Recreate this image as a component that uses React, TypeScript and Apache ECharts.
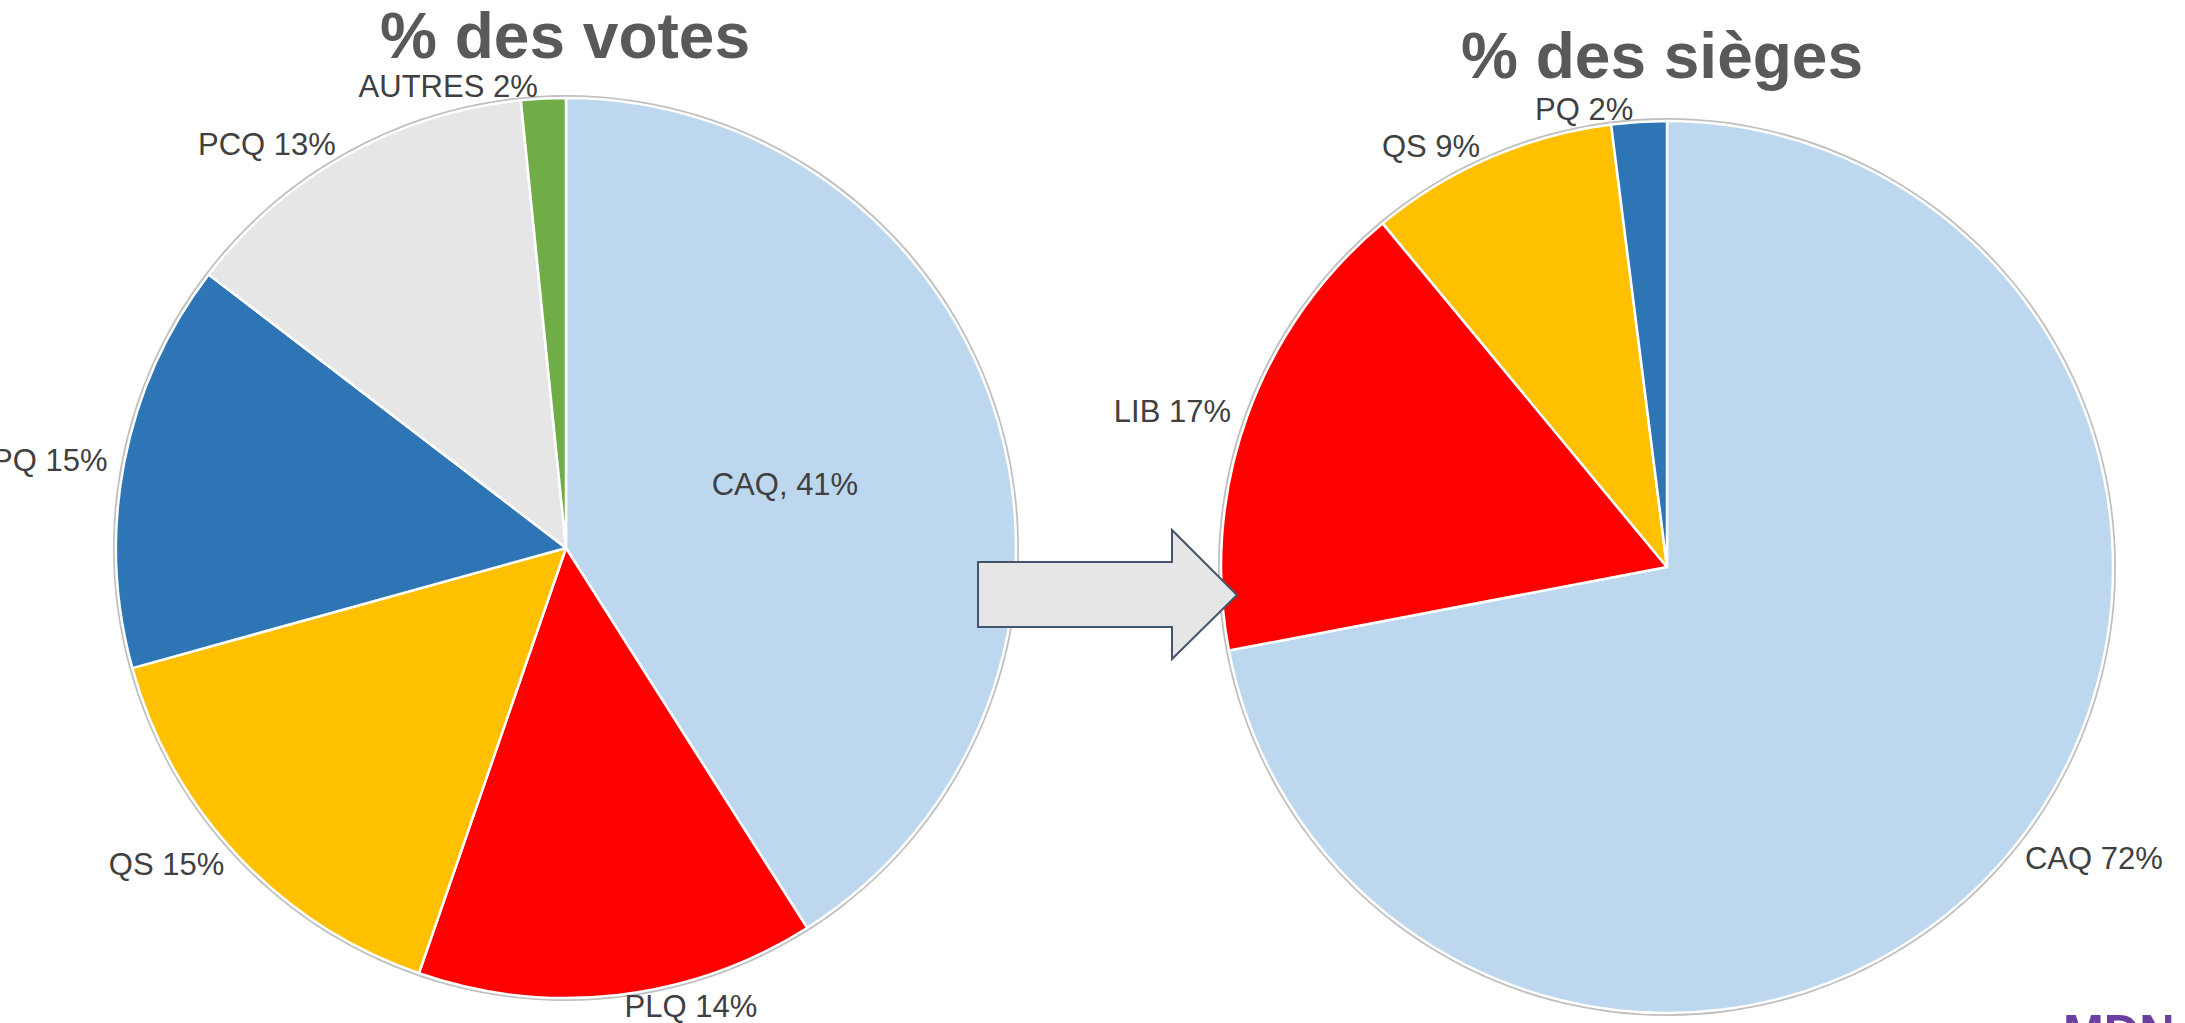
import React, { useEffect, useRef } from "react";
import * as echarts from "echarts";

// ---- data ----
const voteNames = ["CAQ", "PLQ", "QS", "PQ", "PCQ", "AUTRES"];
const voteValues = [41, 14.3, 15.4, 14.7, 13, 1.6];
const voteColors = ["#BDD7EE", "#FF0000", "#FFC000", "#2E75B6", "#E7E6E6", "#70AD47"];

const seatNames = ["CAQ", "LIB", "QS", "PQ"];
const seatValues = [72, 17, 9, 2];
const seatColors = ["#BDD7EE", "#FF0000", "#FFC000", "#2E75B6"];

const titleVotes = "% des votes";
const titleSeats = "% des sièges";

// ---- layout / style ----
const W = 2185;
const H = 1023;
const FONT = "'Liberation Sans', Arial, sans-serif";
const C1 = [566, 548];
const R1 = 450;
const C2 = [1667, 567];
const R2 = 446;

// label placement around each pie: [angle from top (deg, clockwise), distance from centre, align]
const voteLabelPlace: [number, number, string][] = [
  [67.9, 223, "center"],
  [171.9, 462, "left"],
  [223.6, 497, "right"],
  [283.2, 468, "right"],
  [331.9, 463, "right"],
  [354.6, 462, "right"],
];
const seatLabelPlace: [number, number, string][] = [
  [130.5, 468, "left"],
  [291.1, 468, "right"],
  [335.6, 470, "right"],
  [354.4, 465, "right"],
];

export default function App() {
  const ref = useRef<HTMLDivElement>(null);

  useEffect(() => {
    document.body.style.margin = "0";
    if (!ref.current) return;
    const chart = echarts.init(ref.current, null, { renderer: "svg" });

    const labelStyle = {
      fontFamily: FONT,
      fontSize: 31,
      color: "#404040",
    };

    const makePie = (
      names: string[],
      values: number[],
      colors: string[],
      center: number[],
      radius: number,
      innerFirst: boolean
    ) => ({
      type: "pie",
      center,
      radius,
      startAngle: 90,
      clockwise: true,
      z: 2,
      silent: true,
      avoidLabelOverlap: false,
      label: {
        show: true,
        position: "outside",
        ...labelStyle,
        formatter: (p: any) =>
          innerFirst && p.dataIndex === 0
            ? `${p.name}, ${Math.round(p.value)}%`
            : `${p.name} ${Math.round(p.value)}%`,
      },
      labelLine: { show: false, length: 12, length2: 0 },
      itemStyle: { borderColor: "#FFFFFF", borderWidth: 2.5 },
      data: names.map((n, i) => ({
        name: n,
        value: values[i],
        itemStyle: { color: colors[i] },
        label: innerFirst && i === 0 ? { position: "inside" } : undefined,
      })),
    });

    const makeBack = (center: number[], radius: number) => ({
      type: "pie",
      center,
      radius: radius + 3,
      z: 1,
      silent: true,
      label: { show: false },
      labelLine: { show: false },
      itemStyle: { color: "#BFBFBF" },
      data: [{ name: "", value: 1 }],
    });

    const place = (center: number[], p: [number, number, string]) => {
      const a = (p[0] * Math.PI) / 180;
      return {
        x: center[0] + p[1] * Math.sin(a),
        y: center[1] - p[1] * Math.cos(a),
        align: p[2],
        verticalAlign: "middle",
      };
    };

    chart.setOption({
      animation: false,
      backgroundColor: "#FFFFFF",
      series: [
        makePie(voteNames, voteValues, voteColors, C1, R1, true),
        makePie(seatNames, seatValues, seatColors, C2, R2, false),
        makeBack(C1, R1),
        makeBack(C2, R2),
      ],
      labelLayout: (params: any) => {
        if (params.seriesIndex === 0 && voteLabelPlace[params.dataIndex]) {
          return place(C1, voteLabelPlace[params.dataIndex]);
        }
        if (params.seriesIndex === 1 && seatLabelPlace[params.dataIndex]) {
          return place(C2, seatLabelPlace[params.dataIndex]);
        }
        return {};
      },
      graphic: [
        {
          type: "text",
          x: 565,
          y: 36,
          z: 100,
          style: {
            text: titleVotes,
            font: `bold 64px ${FONT}`,
            fill: "#595959",
            textAlign: "center",
            textVerticalAlign: "middle",
          },
        },
        {
          type: "text",
          x: 1662,
          y: 56,
          z: 100,
          style: {
            text: titleSeats,
            font: `bold 64px ${FONT}`,
            fill: "#595959",
            textAlign: "center",
            textVerticalAlign: "middle",
          },
        },
        {
          type: "polygon",
          z: 100,
          shape: {
            points: [
              [978, 562],
              [1172, 562],
              [1172, 530],
              [1237, 595],
              [1172, 659],
              [1172, 627],
              [978, 627],
            ],
          },
          style: { fill: "#E7E6E6", stroke: "#44546A", lineWidth: 2 },
        },
        {
          type: "text",
          x: 2063,
          y: 1031,
          z: 100,
          style: {
            text: "MDN",
            font: `bold 49px ${FONT}`,
            fill: "#6B3FA0",
            textAlign: "left",
            textVerticalAlign: "middle",
          },
        },
      ],
    });

    return () => chart.dispose();
  }, []);

  return <div ref={ref} style={{ width: W, height: H }} />;
}
